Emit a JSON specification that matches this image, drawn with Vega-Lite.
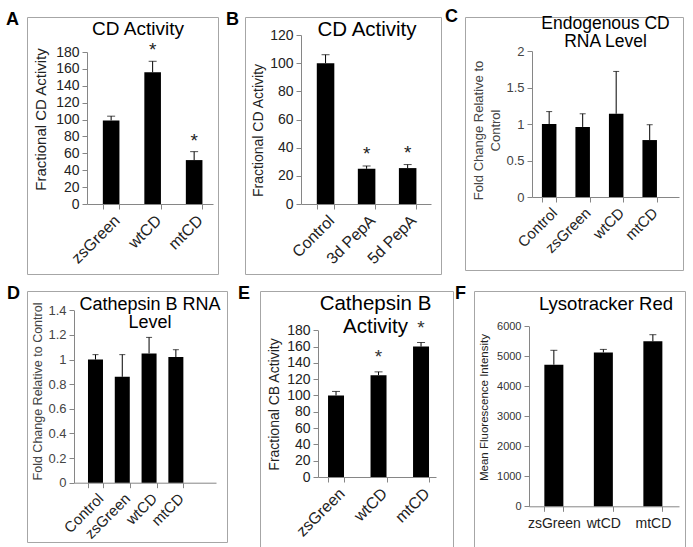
{
  "$schema": "https://vega.github.io/schema/vega-lite/v6.json",
  "padding": {"left": 6, "top": 8, "right": 0, "bottom": 0},
  "spacing": 9,
  "datasets": {
    "A": [
      {"cat": "zsGreen", "value": 99, "upper": 104, "sig": ""},
      {"cat": "wtCD", "value": 156, "upper": 169, "sig": "*"},
      {"cat": "mtCD", "value": 52, "upper": 62, "sig": "*"}
    ],
    "B": [
      {"cat": "Control", "value": 100, "upper": 106, "sig": ""},
      {"cat": "3d PepA", "value": 25, "upper": 27, "sig": "*"},
      {"cat": "5d PepA", "value": 25.5, "upper": 28, "sig": "*"}
    ],
    "C": [
      {"cat": "Control", "value": 1.0, "upper": 1.17, "sig": ""},
      {"cat": "zsGreen", "value": 0.96, "upper": 1.14, "sig": ""},
      {"cat": "wtCD", "value": 1.14, "upper": 1.72, "sig": ""},
      {"cat": "mtCD", "value": 0.78, "upper": 0.99, "sig": ""}
    ],
    "D": [
      {"cat": "Control", "value": 1.0, "upper": 1.04, "sig": ""},
      {"cat": "zsGreen", "value": 0.86, "upper": 1.04, "sig": ""},
      {"cat": "wtCD", "value": 1.05, "upper": 1.18, "sig": ""},
      {"cat": "mtCD", "value": 1.02, "upper": 1.08, "sig": ""}
    ],
    "E": [
      {"cat": "zsGreen", "value": 100, "upper": 105, "sig": ""},
      {"cat": "wtCD", "value": 125, "upper": 129, "sig": "*"},
      {"cat": "mtCD", "value": 160, "upper": 165, "sig": "*"}
    ],
    "F": [
      {"cat": "zsGreen", "value": 4720, "upper": 5200, "sig": ""},
      {"cat": "wtCD", "value": 5130, "upper": 5230, "sig": ""},
      {"cat": "mtCD", "value": 5500, "upper": 5720, "sig": ""}
    ]
  },
  "vconcat": [
    {
      "spacing": 7,
      "hconcat": [
        {
          "title": {"text": "A", "anchor": "start", "dx": -21, "offset": -12, "fontSize": 18, "fontWeight": "bold"},
          "vconcat": [
            {
              "width": 191, "height": 257,
              "data": {"name": "A"},
              "title": {"text": "CD Activity", "fontSize": 19, "dx": 15.5, "offset": -22},
              "resolve": {"axis": {"y": "independent"}},
              "encoding": {
                "x": {"field": "cat", "type": "nominal", "sort": null, "title": null,
                  "scale": {"range": [60, 186], "paddingInner": 0.6, "paddingOuter": 0.318, "align": 0.6},
                  "axis": {"offset": -70, "labelAngle": -45, "labelFontSize": 16, "tickBand": "extent"}}
              },
              "layer": [
                {"mark": {"type": "bar", "color": "#000"},
                 "encoding": {"y": {"field": "value", "type": "quantitative", "title": "Fractional CD Activity",
                   "scale": {"domain": [0, 180], "range": [187, 35]},
                   "axis": {"offset": -60, "values": [0, 20, 40, 60, 80, 100, 120, 140, 160, 180], "labelFontSize": 14, "titleFontSize": 15, "titleX": -42, "titleY": 102}}}},
                {"mark": {"type": "rule", "color": "#000"},
                 "encoding": {"y": {"field": "value", "type": "quantitative", "axis": null}, "y2": {"field": "upper"}}},
                {"mark": {"type": "tick", "color": "#000", "thickness": 1, "size": 8},
                 "encoding": {"y": {"field": "upper", "type": "quantitative", "axis": null}}},
                {"mark": {"type": "text", "fontSize": 19, "baseline": "alphabetic", "dy": -5, "color": "#222"},
                 "encoding": {"y": {"field": "upper", "type": "quantitative", "axis": null}, "text": {"field": "sig"}}}
              ]
            }
          ]
        },
        {
          "spacing": 3,
          "hconcat": [
            {
              "title": {"text": "B", "anchor": "start", "dx": -19, "offset": -12, "fontSize": 18, "fontWeight": "bold"},
              "vconcat": [
                {
                  "width": 196, "height": 257,
                  "data": {"name": "B"},
                  "title": {"text": "CD Activity", "fontSize": 20.5, "dx": 24, "offset": -23},
                  "resolve": {"axis": {"y": "independent"}},
                  "encoding": {
                    "x": {"field": "cat", "type": "nominal", "sort": null, "title": null,
                      "scale": {"range": [56, 186], "paddingInner": 0.573, "paddingOuter": 0.37, "align": 0.52},
                      "axis": {"offset": -70, "labelAngle": -45, "labelFontSize": 16, "tickBand": "extent"}}
                  },
                  "layer": [
                    {"mark": {"type": "bar", "color": "#000"},
                     "encoding": {"y": {"field": "value", "type": "quantitative", "title": "Fractional CD Activity",
                       "scale": {"domain": [0, 120], "range": [187, 18]},
                       "axis": {"offset": -56, "values": [0, 20, 40, 60, 80, 100, 120], "labelFontSize": 14, "titleFontSize": 14, "titleX": -39, "titleY": 113}}}},
                    {"mark": {"type": "rule", "color": "#000"},
                     "encoding": {"y": {"field": "value", "type": "quantitative", "axis": null}, "y2": {"field": "upper"}}},
                    {"mark": {"type": "tick", "color": "#000", "thickness": 1, "size": 8},
                     "encoding": {"y": {"field": "upper", "type": "quantitative", "axis": null}}},
                    {"mark": {"type": "text", "fontSize": 19, "baseline": "alphabetic", "dy": -6, "color": "#222"},
                     "encoding": {"y": {"field": "upper", "type": "quantitative", "axis": null}, "text": {"field": "sig"}}}
                  ]
                }
              ]
            },
            {
              "title": {"text": "C", "anchor": "start", "dx": -20, "offset": -12, "fontSize": 18, "fontWeight": "bold"},
              "vconcat": [
                {
                  "width": 218, "height": 253,
                  "data": {"name": "C"},
                  "title": {"text": ["Endogenous CD", "RNA Level"], "fontSize": 17.5, "lineHeight": 18, "dx": 31.5, "offset": -33},
                  "resolve": {"axis": {"y": "independent"}},
                  "encoding": {
                    "x": {"field": "cat", "type": "nominal", "sort": null, "title": null,
                      "scale": {"range": [67, 214], "paddingInner": 0.567, "paddingOuter": 0.477, "align": 0.31},
                      "axis": {"offset": -73, "labelAngle": -45, "labelFontSize": 15, "tickBand": "extent"}}
                  },
                  "layer": [
                    {"mark": {"type": "bar", "color": "#000"},
                     "encoding": {"y": {"field": "value", "type": "quantitative", "title": ["Fold Change Relative to", "Control"],
                       "scale": {"domain": [0, 2], "range": [180, 34]},
                       "axis": {"offset": -67, "values": [0, 0.5, 1, 1.5, 2], "format": "~g", "labelFontSize": 13, "labelColor": "#444", "titleColor": "#444", "titleFontSize": 13, "titleLineHeight": 17, "titleX": -49.5, "titleY": 113}}}},
                    {"mark": {"type": "rule", "color": "#000"},
                     "encoding": {"y": {"field": "value", "type": "quantitative", "axis": null}, "y2": {"field": "upper"}}},
                    {"mark": {"type": "tick", "color": "#000", "thickness": 1, "size": 6},
                     "encoding": {"y": {"field": "upper", "type": "quantitative", "axis": null}}}
                  ]
                }
              ]
            }
          ]
        }
      ]
    },
    {
      "spacing": 10,
      "hconcat": [
        {
          "title": {"text": "D", "anchor": "start", "dx": -20, "offset": -12, "fontSize": 18, "fontWeight": "bold"},
          "vconcat": [
            {
              "width": 200, "height": 251,
              "data": {"name": "D"},
              "title": {"text": ["Cathepsin B RNA", "Level"], "fontSize": 18, "lineHeight": 18, "dx": 23, "offset": -41},
              "resolve": {"axis": {"y": "independent"}},
              "encoding": {
                "x": {"field": "cat", "type": "nominal", "sort": null, "title": null,
                  "scale": {"range": [47, 189], "paddingInner": 0.44, "paddingOuter": 0.87, "align": 0.3},
                  "axis": {"offset": -59.3, "labelAngle": -45, "labelFontSize": 15, "tickBand": "extent"}}
              },
              "layer": [
                {"mark": {"type": "bar", "color": "#000"},
                 "encoding": {"y": {"field": "value", "type": "quantitative", "title": "Fold Change Relative to Control",
                   "scale": {"domain": [0, 1.4], "range": [191.7, 19.3]},
                   "axis": {"offset": -47, "values": [0, 0.2, 0.4, 0.6, 0.8, 1, 1.2, 1.4], "format": "~g", "labelFontSize": 13, "labelColor": "#444", "titleColor": "#444", "titleFontSize": 12.5, "titleX": -32.6, "titleY": 100}}}},
                {"mark": {"type": "rule", "color": "#000"},
                 "encoding": {"y": {"field": "value", "type": "quantitative", "axis": null}, "y2": {"field": "upper"}}},
                {"mark": {"type": "tick", "color": "#000", "thickness": 1, "size": 6},
                 "encoding": {"y": {"field": "upper", "type": "quantitative", "axis": null}}}
              ]
            }
          ]
        },
        {
          "spacing": 1,
          "hconcat": [
            {
              "title": {"text": "E", "anchor": "start", "dx": -22, "offset": -12, "fontSize": 18, "fontWeight": "bold"},
              "vconcat": [
                {
                  "width": 193, "height": 261,
                  "data": {"name": "E"},
                  "title": {"text": ["Cathepsin B", "Activity"], "fontSize": 20.5, "lineHeight": 23, "dx": 19, "offset": -46},
                  "resolve": {"axis": {"y": "independent"}},
                  "encoding": {
                    "x": {"field": "cat", "type": "nominal", "sort": null, "title": null,
                      "scale": {"range": [58, 176], "paddingInner": 0.624, "paddingOuter": 0.2, "align": 0.59},
                      "axis": {"offset": -75, "labelAngle": -45, "labelFontSize": 16, "tickBand": "extent"}}
                  },
                  "layer": [
                    {"mark": {"type": "bar", "color": "#000"},
                     "encoding": {"y": {"field": "value", "type": "quantitative", "title": "Fractional CB Activity",
                       "scale": {"domain": [0, 180], "range": [186, 39.3]},
                       "axis": {"offset": -58, "values": [0, 20, 40, 60, 80, 100, 120, 140, 160, 180], "labelFontSize": 14, "titleFontSize": 14, "titleX": -40, "titleY": 113}}}},
                    {"mark": {"type": "rule", "color": "#000"},
                     "encoding": {"y": {"field": "value", "type": "quantitative", "axis": null}, "y2": {"field": "upper"}}},
                    {"mark": {"type": "tick", "color": "#000", "thickness": 1, "size": 8},
                     "encoding": {"y": {"field": "upper", "type": "quantitative", "axis": null}}},
                    {"mark": {"type": "text", "fontSize": 19, "baseline": "alphabetic", "dy": -9, "color": "#333"},
                     "encoding": {"y": {"field": "upper", "type": "quantitative", "axis": null}, "text": {"field": "sig"}}}
                  ]
                }
              ]
            },
            {
              "title": {"text": "F", "anchor": "start", "dx": -19, "offset": -12, "fontSize": 18, "fontWeight": "bold"},
              "vconcat": [
                {
                  "width": 211, "height": 259,
                  "data": {"name": "F"},
                  "title": {"text": "Lysotracker Red", "fontSize": 18.5, "dx": 26.5, "offset": -22.7},
                  "resolve": {"axis": {"y": "independent"}},
                  "encoding": {
                    "x": {"field": "cat", "type": "nominal", "sort": null, "title": null,
                      "scale": {"range": [55, 205], "paddingInner": 0.616, "paddingOuter": 0.323, "align": 0.48},
                      "axis": {"offset": -43.7, "labelAngle": 0, "labelFontSize": 14, "labelPadding": 5, "tickBand": "extent"}}
                  },
                  "layer": [
                    {"mark": {"type": "bar", "color": "#000"},
                     "encoding": {"y": {"field": "value", "type": "quantitative", "title": "Mean Fluorescence Intensity",
                       "scale": {"domain": [0, 6000], "range": [215.3, 35.3]},
                       "axis": {"offset": -55, "values": [0, 1000, 2000, 3000, 4000, 5000, 6000], "format": "d", "labelFontSize": 11, "labelColor": "#333", "titleFontSize": 11.5, "titleX": -41.3, "titleY": 116}}}},
                    {"mark": {"type": "rule", "color": "#000"},
                     "encoding": {"y": {"field": "value", "type": "quantitative", "axis": null}, "y2": {"field": "upper"}}},
                    {"mark": {"type": "tick", "color": "#000", "thickness": 1, "size": 7},
                     "encoding": {"y": {"field": "upper", "type": "quantitative", "axis": null}}}
                  ]
                }
              ]
            }
          ]
        }
      ]
    }
  ],
  "config": {
    "font": "Liberation Sans",
    "view": {"stroke": "#a6a6a6", "strokeWidth": 1},
    "axis": {
      "grid": false,
      "domainColor": "#868686",
      "tickColor": "#868686",
      "tickSize": 5,
      "labelColor": "#222",
      "titleColor": "#222",
      "titleFontWeight": "normal",
      "labelFont": "Liberation Sans",
      "titleFont": "Liberation Sans",
      "labelPadding": 3,
      "labelOverlap": false
    },
    "axisY": {"titleBaseline": "alphabetic", "titleAlign": "center", "titleAngle": -90},
    "title": {"font": "Liberation Sans", "fontWeight": "normal", "color": "#000", "baseline": "alphabetic", "anchor": "middle", "frame": "group"}
  }
}
